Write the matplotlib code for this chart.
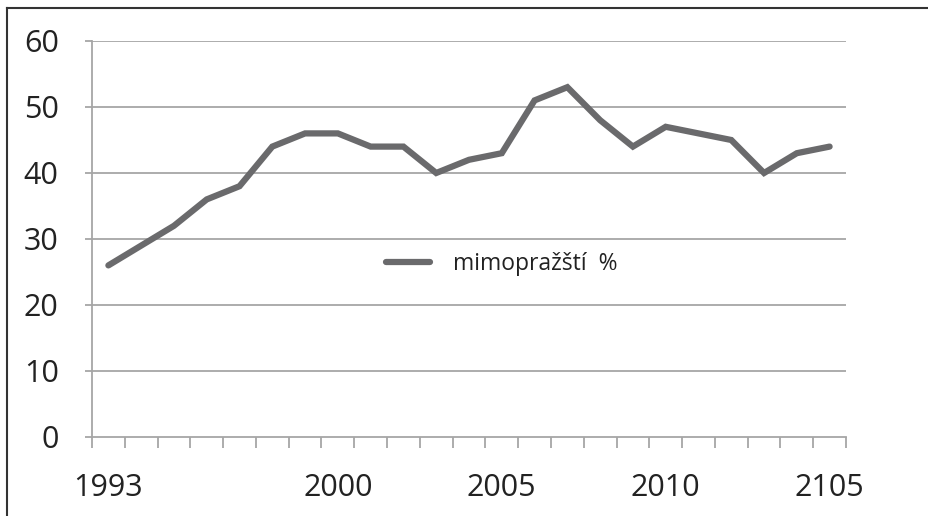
import matplotlib
matplotlib.use('Agg')
import matplotlib.pyplot as plt
from matplotlib.lines import Line2D

years = list(range(1993, 2016))
values = [26, 29, 32, 36, 38, 44, 46, 46, 44, 44, 40, 42, 43,
          51, 53, 48, 44, 47, 46, 45, 40, 43, 44]
label_idx = [0, 7, 12, 17, 22]
x_labels = ['1993', '2000', '2005', '2010', '2105']
series_name = 'mimopražští  %'

plt.rcParams['font.family'] = ['Open Sans', 'DejaVu Sans']

fig = plt.figure(figsize=(9.29, 5.16), dpi=100)
ax = fig.add_axes([92 / 929, 1 - 437 / 516, 754 / 929, 396 / 516])

grid_c = '#a6a6a6'
x = list(range(len(years)))
ax.plot(x, values, color='#6a6a6c', lw=4.5, solid_capstyle='round',
        solid_joinstyle='miter', label=series_name, zorder=3)

ax.set_xlim(-0.5, len(years) - 0.5)
ax.set_ylim(0, 60)
ax.set_yticks(range(0, 61, 10))
for y in range(10, 61, 10):
    ax.axhline(y, color=grid_c, lw=1.3, zorder=1)

ax.set_xticks([i - 0.5 for i in range(len(years) + 1)])
ax.set_xticklabels([])
ax.set_xticks(label_idx, minor=True)
ax.set_xticklabels(x_labels, minor=True)
ax.tick_params(axis='x', which='major', length=8, width=1.3, color=grid_c)
ax.tick_params(axis='x', which='minor', length=0, pad=26, labelsize=22,
               labelcolor='#222222')
ax.tick_params(axis='y', length=5, width=1.3, color=grid_c, pad=19,
               labelsize=22, labelcolor='#222222')

for s in ['top', 'right']:
    ax.spines[s].set_visible(False)
for s in ['left', 'bottom']:
    ax.spines[s].set_color(grid_c)
    ax.spines[s].set_linewidth(1.3)

ax.legend(loc='center left', bbox_to_anchor=(0.363, 0.437), frameon=False,
          fontsize=16.5, handlelength=1.9, handletextpad=1.0,
          labelcolor='#222222')

# outer frame (top and left only)
fig.add_artist(Line2D([7 / 929, 1], [1 - 8 / 516, 1 - 8 / 516],
                      transform=fig.transFigure, color='#333333', lw=1.5))
fig.add_artist(Line2D([7 / 929, 7 / 929], [0, 1 - 8 / 516],
                      transform=fig.transFigure, color='#333333', lw=1.5))

fig.savefig('out.png', dpi=100)
